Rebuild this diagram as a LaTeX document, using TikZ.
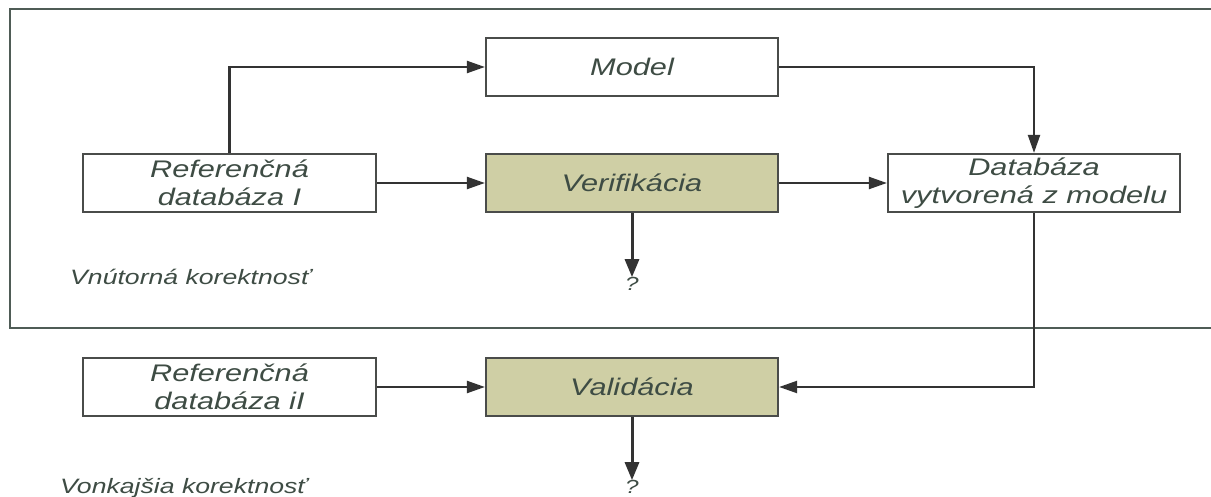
\documentclass[tikz,border=0pt]{standalone}
\usepackage{fontspec}
\newfontfamily\labfont[FakeStretch=1.28]{Liberation Sans}
\usetikzlibrary{arrows.meta}
\definecolor{txtc}{HTML}{3E4C44}
\definecolor{boxc}{HTML}{4A4C4A}
\definecolor{linec}{HTML}{333333}
\definecolor{framec}{HTML}{4F5C56}
\definecolor{khaki}{HTML}{CFCFA5}
\tikzset{
  box/.style={draw=boxc, line width=2.2pt, minimum width=292pt, minimum height=58pt,
    inner sep=0pt, align=center, text=txtc,
    font=\labfont\itshape\fontsize{24}{28}\selectfont},
  wbox/.style={box, fill=white},
  kbox/.style={box, fill=khaki},
  conn/.style={draw=linec, line width=2.2pt, -{Triangle[length=18pt,width=12pt]}},
  qconn/.style={conn, line width=3pt, -{Triangle[length=18pt,width=14pt]}},
  small/.style={text=txtc, font=\labfont\itshape\fontsize{20.8}{24}\selectfont, inner sep=0pt},
  qmark/.style={text=txtc, font=\labfont\itshape\fontsize{19}{22}\selectfont, inner sep=0pt}
}
\begin{document}
\begin{tikzpicture}[x=1pt,y=-1pt]
\useasboundingbox (0,0) rectangle (1211,497);
\fill[white] (0,0) rectangle (1211,497);
% outer frame
\draw[framec, line width=2.2pt] (1215,9) -- (10,9) -- (10,328) -- (1215,328);
% nodes
\node[wbox] (model) at (632,67) {Model};
\node[wbox, minimum width=293pt] (ref1) at (229.5,183) {Referenčná\\databáza I};
\node[kbox] (verif) at (632,183) {Verifikácia};
\node[wbox] (db) at (1034,183) {Databáza\\vytvorená z modelu};
\node[wbox, minimum width=293pt] (ref2) at (229.5,387) {Referenčná\\databáza iI};
\node[kbox] (valid) at (632,387) {Validácia};
\node[qmark] (q1) at (632,284) {?};
\node[qmark] (q2) at (632,487) {?};
\node[small, anchor=west] (inner) at (70,277) {Vnútorná korektnosť};
\node[small, anchor=west] (outer) at (60,488) {Vonkajšia korektnosť};
% connectors
\draw[conn] (ref1.north) |- (model.west);
\draw[conn] (model.east) -| (db.north);
\draw[conn] (ref1.east) -- (verif.west);
\draw[conn] (verif.east) -- (db.west);
\draw[qconn] (verif.south) -- (q1.north);
\draw[conn] (ref2.east) -- (valid.west);
\draw[conn] (db.south) |- (valid.east);
\draw[qconn] (valid.south) -- (q2.north);
\end{tikzpicture}
\end{document}
